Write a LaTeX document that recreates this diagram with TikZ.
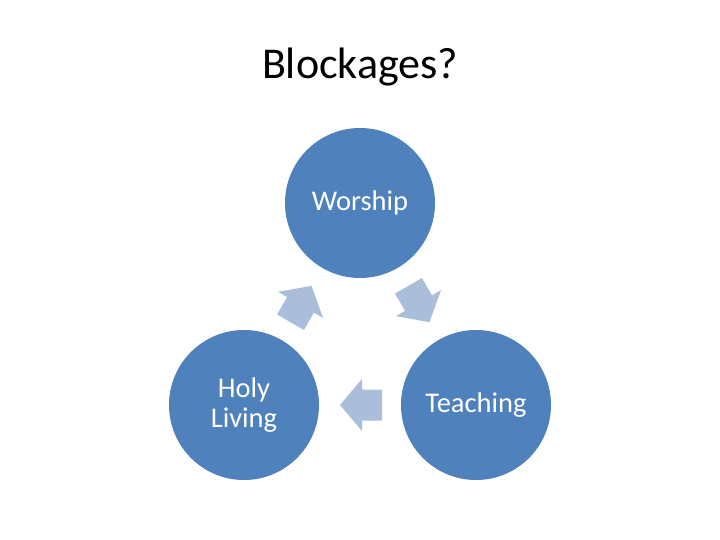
\documentclass[tikz,border=0pt]{standalone}
\usepackage{fontspec}
\setmainfont{Carlito}
\definecolor{circblue}{HTML}{4F81BD}
\definecolor{arrblue}{RGB}{170,189,218}
\begin{document}
\begin{tikzpicture}[x=1pt,y=-1pt,
  bubble/.style={circle,fill=circblue,draw=none,minimum size=150pt,inner sep=0pt,
    text=white,align=center,font=\fontsize{28.5}{30}\selectfont},
  cyclearrow/.style={fill=arrblue,draw=none}]
\useasboundingbox[fill=white] (0,0) rectangle (720,540);
\node[font=\fontsize{44}{53}\selectfont] (title) at (360,67) {Blockages?};
\node[bubble] (worship) at (360,203) {Worship};
\node[bubble] (holy) at (244,405) {Holy\\Living};
\node[bubble] (teach) at (476,405) {Teaching};
\foreach \cx/\cy/\r in {361/405/0, 301/304/-120, 419/304/120}{
  \begin{scope}[shift={(\cx,\cy)},rotate=\r]
    \fill[cyclearrow] (-21,0) -- (1,-26) -- (1,-15.5) -- (21,-15.5) -- (21,15.5) -- (1,15.5) -- (1,26) -- cycle;
  \end{scope}
}
\end{tikzpicture}
\end{document}
